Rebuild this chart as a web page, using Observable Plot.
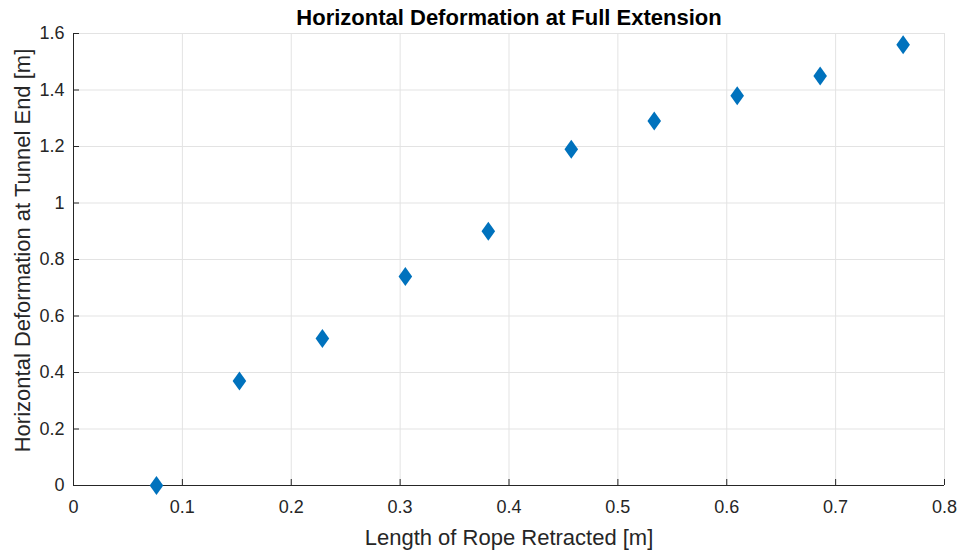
<!DOCTYPE html>
<html>
<head>
<meta charset="utf-8">
<script src="https://cdn.jsdelivr.net/npm/d3@7"></script>
<script src="https://cdn.jsdelivr.net/npm/@observablehq/plot@0.6"></script>
<style>
  html, body { margin: 0; padding: 0; background: white; }
</style>
</head>
<body>
<div id="chart"></div>
<script>
const ropeRetracted = [0.0762, 0.1524, 0.2286, 0.3048, 0.381, 0.4572, 0.5334, 0.6096, 0.6858, 0.762];
const deformation = [0, 0.37, 0.52, 0.74, 0.90, 1.19, 1.29, 1.38, 1.45, 1.56];
const xTicks = [0, 0.1, 0.2, 0.3, 0.4, 0.5, 0.6, 0.7, 0.8];
const yTicks = [0, 0.2, 0.4, 0.6, 0.8, 1, 1.2, 1.4, 1.6];
const titleText = "Horizontal Deformation at Full Extension";
const xLabel = "Length of Rope Retracted [m]";
const yLabel = "Horizontal Deformation at Tunnel End [m]";

const data = ropeRetracted.map((x, i) => ({x, y: deformation[i]}));

const diamond = {
  draw(ctx, size) {
    const w = 6.8, h = 9.5;
    ctx.moveTo(0, -h);
    ctx.lineTo(w, 0);
    ctx.lineTo(0, h);
    ctx.lineTo(-w, 0);
    ctx.closePath();
  }
};

const axisColor = "#262626";
const gridColor = "#e3e3e3";

const chart = Plot.plot({
  width: 963,
  height: 554,
  marginLeft: 73,
  marginRight: 19,
  marginTop: 33,
  marginBottom: 69,
  style: {fontFamily: "'Liberation Sans', Arial, Helvetica, sans-serif", fontSize: "18px", color: axisColor, background: "white"},
  x: {domain: [0, 0.8], axis: null},
  y: {domain: [0, 1.6], axis: null},
  marks: [
    Plot.gridX(xTicks, {stroke: gridColor, strokeOpacity: 1}),
    Plot.gridY(yTicks, {stroke: gridColor, strokeOpacity: 1}),
    Plot.ruleX([0], {stroke: axisColor, strokeWidth: 1}),
    Plot.ruleY([0], {stroke: axisColor, strokeWidth: 1}),
    Plot.tickX(xTicks, {x: d => d, insetTop: 446, stroke: axisColor}),
    Plot.tickY(yTicks, {y: d => d, insetRight: 865, stroke: axisColor}),
    Plot.text(xTicks, {x: d => d, text: d => String(d), frameAnchor: "bottom", lineAnchor: "middle", dy: 22, fontSize: 18, fill: axisColor}),
    Plot.text(yTicks, {y: d => d, text: d => String(d), frameAnchor: "left", textAnchor: "end", lineAnchor: "middle", dx: -9, fontSize: 18, fill: axisColor}),
    Plot.dot(data, {x: "x", y: "y", symbol: diamond, fill: "#0072BD", stroke: "none", r: 5}),
    Plot.text([titleText], {frameAnchor: "top", lineAnchor: "middle", dy: -16, fontSize: 22, fontWeight: "bold", fill: "black"}),
    Plot.text([xLabel], {frameAnchor: "bottom", lineAnchor: "middle", dy: 52, fontSize: 22, fill: axisColor}),
    Plot.text([yLabel], {frameAnchor: "left", textAnchor: "middle", dx: -51, dy: -9, rotate: -90, fontSize: 22, fill: axisColor})
  ]
});
document.getElementById("chart").appendChild(chart);
</script>
</body>
</html>
